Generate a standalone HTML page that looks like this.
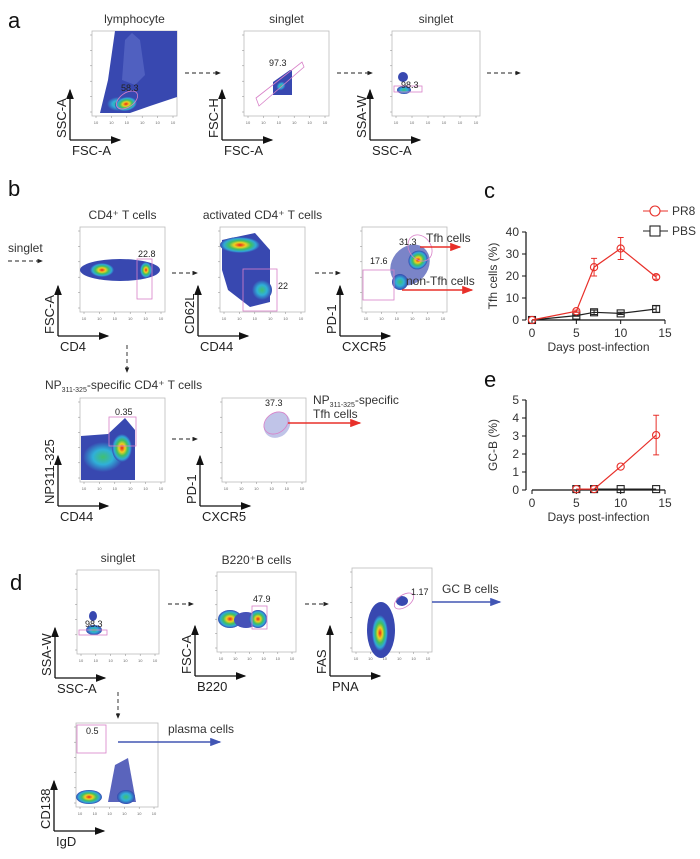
<!DOCTYPE html>
<html><head><meta charset="utf-8"><style>
body{margin:0;background:#fff}
svg{display:block;font-family:"Liberation Sans",sans-serif}
</style></head><body>
<svg id="fig" width="700" height="859" viewBox="0 0 700 859" xmlns="http://www.w3.org/2000/svg">
<defs>
<marker id="ah" markerWidth="8" markerHeight="6" refX="7" refY="3" orient="auto"><path d="M0,0L8,3L0,6z" fill="#111"/></marker>
<marker id="ahs" markerWidth="6" markerHeight="5" refX="5" refY="2.5" orient="auto"><path d="M0,0L6,2.5L0,5z" fill="#222"/></marker>
<marker id="ahr" markerWidth="8" markerHeight="6" refX="7" refY="3" orient="auto"><path d="M0,0L8,3L0,6z" fill="#e8302a"/></marker>
<marker id="ahb" markerWidth="8" markerHeight="6" refX="7" refY="3" orient="auto"><path d="M0,0L8,3L0,6z" fill="#4256b4"/></marker>
<radialGradient id="hot"><stop offset="0" stop-color="#e8201a"/><stop offset="0.3" stop-color="#f0d020"/><stop offset="0.55" stop-color="#40c060"/><stop offset="0.8" stop-color="#30a8d8"/><stop offset="1" stop-color="#3848b0"/></radialGradient>
<radialGradient id="warm"><stop offset="0" stop-color="#40c070"/><stop offset="0.5" stop-color="#30b0d8"/><stop offset="1" stop-color="#3848b0"/></radialGradient>
</defs>
<g id="flow"></g>
<g id="charts"></g>
</svg>
<script>
const NS='http://www.w3.org/2000/svg';
function mk(parent,tag,attrs,txt){const e=document.createElementNS(NS,tag);for(const k in attrs)e.setAttribute(k,attrs[k]);if(txt!==undefined)e.textContent=txt;parent.appendChild(e);return e;}
const flow=document.getElementById('flow');

const letters=[['a',8,28],['b',8,196],['c',484,198],['d',10,590],['e',484,387]];
letters.forEach(l=>{const t=mk(flow,'text',{x:l[1],y:l[2],'font-size':22,fill:'#111'},l[0]);

});

const plots=[
 {id:'a-lymphocyte',x:92,y:31,w:85,h:85,title:'lymphocyte',yl:'SSC-A',xl:'FSC-A'},
 {id:'a-singlet1',x:244,y:31,w:85,h:85,title:'singlet',yl:'FSC-H',xl:'FSC-A'},
 {id:'a-singlet2',x:392,y:31,w:88,h:85,title:'singlet',yl:'SSA-W',xl:'SSC-A'},
 {id:'b-cd4',x:80,y:227,w:85,h:85,title:'CD4⁺ T cells',yl:'FSC-A',xl:'CD4'},
 {id:'b-activated',x:220,y:227,w:85,h:85,title:'activated CD4⁺ T cells',yl:'CD62L',xl:'CD44'},
 {id:'b-tfh',x:362,y:227,w:85,h:85,title:'',yl:'PD-1',xl:'CXCR5'},
 {id:'b-np',x:80,y:398,w:85,h:84,title:'',yl:'NP311-325',xl:'CD44'},
 {id:'b-np-tfh',x:222,y:398,w:84,h:84,title:'',yl:'PD-1',xl:'CXCR5'},
 {id:'d-singlet',x:77,y:570,w:82,h:84,title:'singlet',yl:'SSA-W',xl:'SSC-A'},
 {id:'d-b220',x:217,y:572,w:79,h:80,title:'B220⁺B cells',yl:'FSC-A',xl:'B220'},
 {id:'d-gcb',x:352,y:568,w:80,h:84,title:'',yl:'FAS',xl:'PNA'},
 {id:'d-plasma',x:76,y:723,w:82,h:84,title:'',yl:'CD138',xl:'IgD'}
];
plots.forEach(p=>{
 const g=mk(flow,'g',{});
 
 
 const r=mk(g,'rect',{x:p.x,y:p.y,width:p.w,height:p.h,fill:'#fff',stroke:'#bbb','stroke-width':0.8});
 
 
 if(p.title){const t=mk(g,'text',{x:p.x+p.w/2,y:p.y-8,'font-size':12,'text-anchor':'middle',fill:'#333'},p.title);
  
  }
 const ox=p.x-22,oy=p.y+p.h+24;
 mk(g,'line',{x1:ox,y1:oy,x2:ox,y2:oy-50,stroke:'#111','stroke-width':1.3,'marker-end':'url(#ah)'});
 mk(g,'line',{x1:ox,y1:oy,x2:ox+50,y2:oy,stroke:'#111','stroke-width':1.3,'marker-end':'url(#ah)'});
 const yl=mk(g,'text',{x:ox-4,y:oy-2,'font-size':13,fill:'#222',transform:`rotate(-90 ${ox-4} ${oy-2})`},p.yl);
 
 
 const xl=mk(g,'text',{x:ox+2,y:oy+15,'font-size':13,fill:'#222'},p.xl);
 
 
 for(let i=0;i<6;i++){mk(g,'line',{x1:p.x-2,x2:p.x,y1:p.y+4+i*(p.h-8)/5,y2:p.y+4+i*(p.h-8)/5,stroke:'#888','stroke-width':0.5});
  mk(g,'line',{y1:p.y+p.h,y2:p.y+p.h+2,x1:p.x+4+i*(p.w-8)/5,x2:p.x+4+i*(p.w-8)/5,stroke:'#888','stroke-width':0.5});
  mk(g,'text',{x:p.x+4+i*(p.w-8)/5,y:p.y+p.h+8,'font-size':4,fill:'#666','text-anchor':'middle'},'10');}
});

const B='#3848b0';
const blobs=[
 // a1
 ['path','M100,113 L108,80 L115,31 L177,31 L177,97 L150,106 L130,113Z',B],
 ['path','M125,40 L132,33 L140,40 L145,75 L135,85 L122,80Z','#5060c0'],
 [118,104,11,7,'url(#warm)',0],[126,104,11,7,'url(#hot)',-10],
 // a2
 ['path','M273,95 L273,82 L290,70 L292,70 L292,95Z',B],[281,86,5,4,'url(#warm)',-40],
 // a3
 [403,77,5,5,B,0],[404,90,7,4,'url(#warm)',0],
 // b1
 [120,270,40,11,B,0],[102,270,12,7,'url(#hot)',0],[146,270,6,8,'url(#hot)',0],
 // b2
 ['path','M222,240 L255,233 L270,250 L270,302 L250,307 L228,290 L222,270Z',B],
 [240,245,20,8,'url(#hot)',0],[262,290,10,10,'url(#warm)',0],
 // b3
 [410,265,18,22,'#7a84c8',40],[418,260,10,9,'url(#hot)',-40],[400,282,8,8,'url(#warm)',0],
 // b4
 ['path','M81,460 L81,436 L108,434 L125,418 L135,430 L135,480 L81,480Z',B],
 [103,457,20,15,'url(#warm)',0],[122,448,10,14,'url(#hot)',0],
 // b5
 [277,425,14,12,'#c0c4e8',-40],
 // d1
 [93,616,4,5,B,0],[94,630,8,5,'url(#warm)',0],
 // d2
 [230,619,12,9,'url(#hot)',0],[246,620,12,8,'#4652b8',0],[258,619,9,9,'url(#hot)',0],
 // d3
 [381,630,14,28,B,0],[380,633,8,18,'url(#hot)',0],[402,601,6,5,B,0],
 // d4
 [89,797,13,7,'url(#hot)',0],['path','M108,802 L115,765 L128,758 L136,802Z','#5a64bc'],[126,797,9,7,'url(#warm)',0]
];
blobs.forEach(b=>{let e;
 if(b[0]==='path')e=mk(flow,'path',{d:b[1],fill:b[2]});
 else e=mk(flow,'ellipse',{cx:b[0],cy:b[1],rx:b[2],ry:b[3],fill:b[4],transform:`rotate(${b[5]} ${b[0]} ${b[1]})`});
 
 });

const P='#d880c8';
const gates=[
 ['ellipse',{cx:127,cy:100,rx:12,ry:7}],
 ['path',{d:'M256,98 L302,62 L304,67 L259,106Z'}],
 ['rect',{x:394,y:86,width:28,height:6}],
 ['rect',{x:137,y:259,width:15,height:40}],
 ['rect',{x:243,y:269,width:34,height:42}],
 ['rect',{x:363,y:270,width:31,height:30}],
 ['ellipse',{cx:420,cy:248,rx:11,ry:14}],
 ['rect',{x:109,y:417,width:27,height:29}],
 ['ellipse',{cx:276,cy:423,rx:13,ry:10}],
 ['rect',{x:79,y:630,width:28,height:5}],
 ['rect',{x:252,y:606,width:15,height:23}],
 ['ellipse',{cx:404,cy:601,rx:11,ry:6}],
 ['rect',{x:77,y:725,width:29,height:28}]
];
gates.forEach(gd=>{const e=mk(flow,gd[0],Object.assign({fill:'none',stroke:P,'stroke-width':0.8},gd[1]));
 if(gd[1].cx){e.setAttribute('transform',`rotate(-35 ${gd[1].cx} ${gd[1].cy})`);}
 
 });

const pcts=[['58.3',121,91],['97.3',269,66],['98.3',401,88],['22.8',138,257],['22',278,289],['17.6',370,264],['31.3',399,245],['0.35',115,415],['37.3',265,406],['98.3',85,627],['47.9',253,602],['1.17',411,595],['0.5',86,734]];
pcts.forEach(t=>{const e=mk(flow,'text',{x:t[1],y:t[2],'font-size':9,fill:'#222'},t[0]);
 
 });

const darrows=[[185,73,220,73],[337,73,372,73],[487,73,520,73],[8,261,42,261],[172,273,197,273],[315,273,340,273],[127,345,127,372],[172,439,197,439],[168,604,193,604],[305,604,328,604],[118,692,118,718]];
darrows.forEach(a=>{const e=mk(flow,'line',{x1:a[0],y1:a[1],x2:a[2],y2:a[3],stroke:'#222','stroke-width':0.9,'stroke-dasharray':'4,3','marker-end':'url(#ahs)'});
 
 });
const st=mk(flow,'text',{x:8,y:252,'font-size':12,fill:'#333'},'singlet');



const carrows=[[420,247,460,247,'r'],[402,290,472,290,'r'],[288,423,360,423,'r'],[432,602,500,602,'b'],[118,742,220,742,'b']];
carrows.forEach(a=>{const e=mk(flow,'line',{x1:a[0],y1:a[1],x2:a[2],y2:a[3],stroke:a[4]==='r'?'#e8302a':'#4256b4','stroke-width':1.4,'marker-end':a[4]==='r'?'url(#ahr)':'url(#ahb)'});
 
 });
const clabels=[['Tfh cells',426,242],['non-Tfh cells',406,285],['GC B cells',442,593],['plasma cells',168,733]];
clabels.forEach(c=>{const e=mk(flow,'text',{x:c[1],y:c[2],'font-size':12,fill:'#333'},c[0]);
 
 });
let e1=mk(flow,'text',{x:45,y:389,'font-size':12,fill:'#333'});
e1.innerHTML='NP<tspan font-size="7" dy="3">311-325</tspan><tspan dy="-3">-specific CD4⁺ T cells</tspan>';


let e2=mk(flow,'text',{x:313,y:404,'font-size':12,fill:'#333'});
e2.innerHTML='NP<tspan font-size="7" dy="3">311-325</tspan><tspan dy="-3">-specific</tspan><tspan x="313" dy="14">Tfh cells</tspan>';



// ===== Line charts =====
const days=[0,5,7,10,14];
const tfhPR8=[0,4,24,32.5,19.5];
const tfhPR8Err=[0,0.5,4,5,1];
const tfhPBS=[0,2,3.5,3,5];
const tfhPBSErr=[0,0.3,1,0.5,1.5];
const tfhTicks=[0,10,20,30,40];
const gcDays=[5,7,10,14];
const gcPR8=[0.05,0.05,1.3,3.05];
const gcPR8Err=[0,0,0,1.1];
const gcPBS=[0.05,0.05,0.05,0.05];
const xTicks=[0,5,10,15];
const gcTicks=[0,1,2,3,4,5];

const charts=document.getElementById('charts');
function chart(name,x0,x1,y0,y1,ymax,yt,ytitle,series){
 const g=mk(charts,'g',{});
 
 
 const X=v=>x0+(x1-x0)*v/15, Y=v=>y0-(y0-y1)*v/ymax;
 mk(g,'line',{x1:x0,x2:x1,y1:y0,y2:y0,stroke:'#111','stroke-width':1.2});
 mk(g,'line',{x1:x0-6,x2:x0-6,y1:y0,y2:y1,stroke:'#111','stroke-width':1.2});
 xTicks.forEach(t=>{mk(g,'line',{x1:X(t),x2:X(t),y1:y0,y2:y0+4,stroke:'#111'});
  const e=mk(g,'text',{x:X(t),y:y0+17,'font-size':12,'text-anchor':'middle',fill:'#333'},t);
  
  });
 yt.forEach(t=>{mk(g,'line',{x1:x0-10,x2:x0-6,y1:Y(t),y2:Y(t),stroke:'#111'});
  const e=mk(g,'text',{x:x0-13,y:Y(t)+4,'font-size':12,'text-anchor':'end',fill:'#333'},t);
  
  });
 const xt=mk(g,'text',{x:(x0+x1)/2,y:y0+31,'font-size':12,'text-anchor':'middle',fill:'#333'},'Days post-infection');
 
 
 const yx=x0-35,yy=(y0+y1)/2;
 const ytl=mk(g,'text',{x:yx,y:yy,'font-size':12,'text-anchor':'middle',fill:'#333',transform:`rotate(-90 ${yx} ${yy})`},ytitle);
 
 
 series.forEach(s=>{
  const pts=s.d.map((d,i)=>X(d)+','+Y(s.v[i])).join(' ');
  const pl=mk(g,'polyline',{points:pts,fill:'none',stroke:s.c,'stroke-width':1.2});
  
  
  s.d.forEach((d,i)=>{
   const er=s.e[i];
   if(er>0){const eb=mk(g,'path',{d:`M${X(d)},${Y(s.v[i]+er)}V${Y(s.v[i]-er)}M${X(d)-3},${Y(s.v[i]+er)}h6M${X(d)-3},${Y(s.v[i]-er)}h6`,stroke:s.c,fill:'none','stroke-width':1});
    
    }
   let m;
   if(s.m==='o')m=mk(g,'circle',{cx:X(d),cy:Y(s.v[i]),r:3.6,fill:'none',stroke:s.c,'stroke-width':1.1});
   else m=mk(g,'rect',{x:X(d)-3.5,y:Y(s.v[i])-3.5,width:7,height:7,fill:'none',stroke:s.c,'stroke-width':1.1});
   
   
  });
 });
}
chart('tfh-chart',532,665,320,232,40,tfhTicks,'Tfh cells (%)',[
 {n:'pbs',d:days,v:tfhPBS,e:tfhPBSErr,c:'#222',m:'s'},
 {n:'pr8',d:days,v:tfhPR8,e:tfhPR8Err,c:'#e8302a',m:'o'}]);
chart('gcb-chart',532,665,490,400,5,gcTicks,'GC-B (%)',[
 {n:'pbs',d:gcDays,v:gcPBS,e:[0,0,0,0],c:'#222',m:'s'},
 {n:'pr8',d:gcDays,v:gcPR8,e:gcPR8Err,c:'#e8302a',m:'o'}]);
const lg=mk(charts,'g',{});


[['PR8','#e8302a','o',211],['PBS','#222','s',231]].forEach(l=>{
 const it=mk(lg,'g',{});
 
 
 mk(it,'line',{x1:643,x2:668,y1:l[3],y2:l[3],stroke:l[1],'stroke-width':1.1});
 if(l[2]==='o')mk(it,'circle',{cx:655,cy:l[3],r:5,fill:'#fff',stroke:l[1],'stroke-width':1.1});
 else mk(it,'rect',{x:650,y:l[3]-5,width:10,height:10,fill:'#fff',stroke:l[1],'stroke-width':1.1});
 mk(it,'text',{x:672,y:l[3]+4,'font-size':12,fill:'#333'},l[0]);
});
</script>
</body></html>
